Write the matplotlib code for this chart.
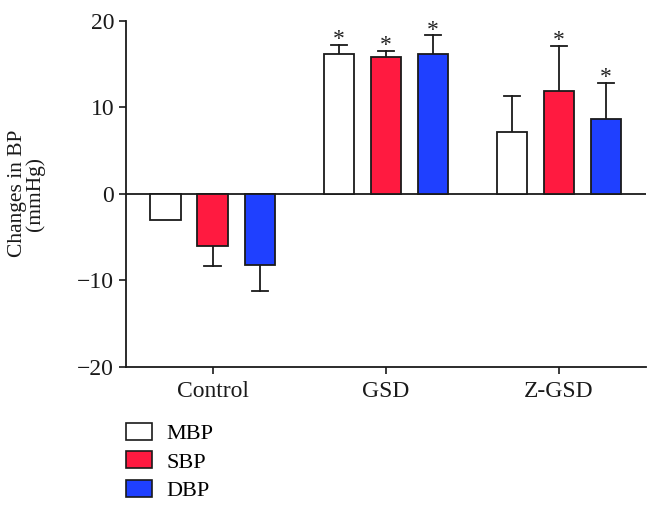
import matplotlib
matplotlib.use("Agg")
import matplotlib.pyplot as plt
from matplotlib.patches import Patch
import numpy as np

plt.rcParams["font.family"] = ["Liberation Serif", "DejaVu Serif"]

groups = ["Control", "GSD", "Z-GSD"]
series = ["MBP", "SBP", "DBP"]
means = {
    "MBP": [-3.0, 16.2, 7.1],
    "SBP": [-6.0, 15.8, 11.9],
    "DBP": [-8.3, 16.2, 8.6],
}
errors = {
    "MBP": [0.0, 1.0, 4.2],
    "SBP": [2.35, 0.7, 5.2],
    "DBP": [2.9, 2.1, 4.2],
}
# significance marks per series, per group
stars = {
    "MBP": [False, True, False],
    "SBP": [False, True, True],
    "DBP": [False, True, True],
}
colors = {"MBP": "#ffffff", "SBP": "#ff1a40", "DBP": "#1f40ff"}

fig = plt.figure(figsize=(6.6, 5.11), dpi=100)
ax = fig.add_axes([0.1909, 0.2824, 0.7874, 0.6771])

x = np.arange(len(groups))
step = 0.272
width = 0.175

for k, name in enumerate(series):
    pos = x + (k - 1) * step
    vals = np.array(means[name])
    errs = np.array(errors[name])
    ax.bar(pos, vals, width, color=colors[name], edgecolor="#1a1a1a",
           linewidth=1.3, zorder=3)
    # one-sided error bars, away from zero
    for px, v, e in zip(pos, vals, errs):
        if e <= 0:
            continue
        end = v + e if v >= 0 else v - e
        ax.plot([px, px], [v, end], color="#1a1a1a", lw=1.3, zorder=2)
        ax.plot([px - width * 0.27, px + width * 0.27], [end, end],
                color="#1a1a1a", lw=1.3, zorder=2)
    for px, v, e, s in zip(pos, vals, errs, stars[name]):
        if s:
            ax.text(px, v + e + 0.6, "*", ha="center", va="center",
                    fontsize=17, color="#222222")

ax.axhline(0, color="#1a1a1a", lw=1.3, zorder=1)

ax.set_xlim(-0.5, 2.5)
ax.set_ylim(-20, 20)
ax.set_yticks([-20, -10, 0, 10, 20])
ax.set_yticklabels(["\u221220", "\u221210", "0", "10", "20"])
ax.set_xticks(x)
ax.set_xticklabels(groups)
ax.tick_params(axis="both", labelsize=17, width=1.2, length=5,
               color="#1a1a1a", labelcolor="#1a1a1a")
ax.tick_params(axis="x", pad=5)
for side in ["top", "right"]:
    ax.spines[side].set_visible(False)
for side in ["left", "bottom"]:
    ax.spines[side].set_linewidth(1.3)
    ax.spines[side].set_color("#1a1a1a")

ax.set_ylabel("Changes in BP\n(mmHg)", fontsize=15.5, color="#1a1a1a",
              linespacing=0.88)
ax.yaxis.set_label_coords(-0.155, 0.5)

handles = [Patch(facecolor=colors[s], edgecolor="#1a1a1a", linewidth=1.2)
           for s in series]
fig.legend(handles, series, loc="upper left",
           bbox_to_anchor=(126 / 660, 1 - 423 / 511), frameon=False,
           fontsize=16, handlelength=1.17, handleheight=0.78,
           handletextpad=0.65, labelspacing=0.33, borderpad=0,
           borderaxespad=0)

fig.savefig("out.png", dpi=100)
